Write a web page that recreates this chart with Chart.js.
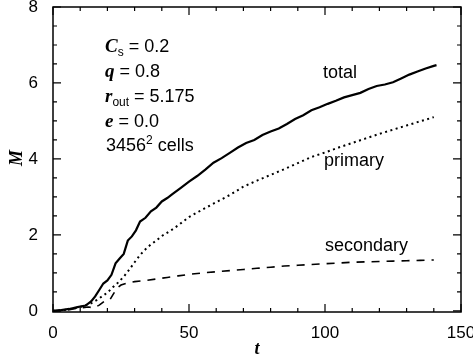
<!DOCTYPE html>
<html>
<head>
<meta charset="utf-8">
<script src="https://cdn.jsdelivr.net/npm/chart.js@4/dist/chart.umd.min.js"></script>
<style>
  html, body { margin: 0; padding: 0; background: #fff; }
  #wrap { width: 473px; height: 362px; }
</style>
</head>
<body>
<div id="wrap"><canvas id="id-canvas" width="473" height="362"></canvas></div>
<script>
// valeurs
var t_total = [0,3,6,9,12,14,15.5,17,18.5,20,21.5,23,24.5,26,27.5,29,30.5,32,34,36,38,40,42,44,47,50,53,56,59,62,65,68,71,74,77,80,83,86,89,92,95,98,101,104,107,110,113,116,119,122,125,128,131,134,137,140,141];
var m_total = [0,0.02,0.05,0.1,0.14,0.25,0.38,0.55,0.72,0.8,0.95,1.25,1.38,1.5,1.85,1.96,2.12,2.35,2.45,2.62,2.72,2.88,2.97,3.08,3.24,3.4,3.55,3.72,3.9,4.02,4.16,4.3,4.42,4.5,4.63,4.72,4.8,4.92,5.05,5.15,5.28,5.36,5.45,5.53,5.62,5.68,5.74,5.84,5.92,5.96,6.02,6.12,6.22,6.3,6.38,6.45,6.47];

var t_primary = [0,5,10,12,14,16,18,20,22,24,26,28,30,32,34,36,38,40,43,46,50,55,60,65,70,75,80,85,90,95,100,105,110,115,120,125,130,135,140];
var m_primary = [0,0.03,0.1,0.15,0.2,0.28,0.38,0.48,0.62,0.75,0.9,1.08,1.28,1.47,1.62,1.75,1.85,1.97,2.1,2.25,2.47,2.67,2.86,3.05,3.27,3.43,3.58,3.73,3.89,4.05,4.17,4.3,4.42,4.54,4.66,4.77,4.88,4.99,5.1];

var t_secondary = [0,5,10,13,15,17,19,21,22,23.5,25,27,30,34,38,42,46,50,55,60,65,70,75,80,85,90,95,100,105,110,115,120,125,130,135,140];
var m_secondary = [0,0.02,0.08,0.1,0.08,0.15,0.26,0.3,0.42,0.6,0.68,0.73,0.77,0.8,0.84,0.88,0.92,0.96,1.0,1.03,1.06,1.09,1.12,1.15,1.18,1.2,1.22,1.24,1.26,1.28,1.29,1.3,1.31,1.32,1.33,1.34];

var x_ticks = [0,50,100,150];
var y_ticks = [0,2,4,6,8];
var x_minor = 10;
var y_minor = 0.5;

function pts(xs, ys) {
  return xs.map(function(x, i) { return {x: x, y: ys[i]}; });
}

var SANS = "'Liberation Sans', Arial, sans-serif";
var SERIF = "'Liberation Serif', 'Times New Roman', serif";

// cadre, graduations vers l'interieur, titres et annotations
var decor = {
  id: 'decor',
  afterDraw: function(chart) {
    var ctx = chart.ctx, a = chart.chartArea;
    var xs = chart.scales.x, ys = chart.scales.y;
    ctx.save();
    ctx.strokeStyle = '#000';
    ctx.lineWidth = 1.5;
    ctx.strokeRect(a.left, a.top, a.right - a.left, a.bottom - a.top);
    ctx.lineWidth = 1.2;
    ctx.beginPath();
    for (var v = 0; v <= 150 + 1e-9; v += x_minor) {
      var px = xs.getPixelForValue(v);
      var len = (v % 50 === 0) ? 8 : 4;
      ctx.moveTo(px, a.bottom); ctx.lineTo(px, a.bottom - len);
      ctx.moveTo(px, a.top); ctx.lineTo(px, a.top + len);
    }
    for (var w = 0; w <= 8 + 1e-9; w += y_minor) {
      var py = ys.getPixelForValue(w);
      var l2 = (w % 2 === 0) ? 8 : 4;
      ctx.moveTo(a.left, py); ctx.lineTo(a.left + l2, py);
      ctx.moveTo(a.right, py); ctx.lineTo(a.right - l2, py);
    }
    ctx.stroke();

    ctx.fillStyle = '#000';
    ctx.textBaseline = 'alphabetic';
    // titres des axes
    ctx.font = 'italic bold 18px ' + SERIF;
    ctx.textAlign = 'center';
    ctx.fillText('t', 257, 354);
    ctx.save();
    ctx.translate(22, 158);
    ctx.rotate(-Math.PI / 2);
    ctx.fillText('M', 0, 0);
    ctx.restore();

    // annotations
    ctx.textAlign = 'left';
    function seq(x, y, parts) {
      parts.forEach(function(p) {
        ctx.font = p[1];
        ctx.fillText(p[0], x, y + (p[2] || 0));
        x += ctx.measureText(p[0]).width;
      });
    }
    var it = 'italic bold 19px ' + SERIF, rg = '18px ' + SANS, sm = '12px ' + SANS;
    seq(105, 52, [['C', it], ['s', sm, 4], [' = 0.2', rg]]);
    seq(105, 77, [['q', it], [' = 0.8', rg]]);
    seq(105, 102, [['r', it], ['out', sm, 4], [' = 5.175', rg]]);
    seq(105, 127, [['e', it], [' = 0.0', rg]]);
    seq(106, 151, [['3456', rg], ['2', sm, -7], [' cells', rg]]);

    ctx.font = rg;
    ctx.fillText('total', 323, 78);
    ctx.fillText('primary', 324, 166);
    ctx.fillText('secondary', 325, 251);
    ctx.restore();
  }
};

(function() {
  var options = {
    type: 'scatter',
    data: {
      datasets: [{
        data: pts(t_total, m_total),
        label: 'total',
        borderColor: '#000',
        borderWidth: 2.2,
        showLine: true,
        pointRadius: 0,
        tension: 0
      }, {
        data: pts(t_primary, m_primary),
        label: 'primary',
        borderColor: '#000',
        borderWidth: 2,
        borderDash: [2, 3.5],
        showLine: true,
        pointRadius: 0,
        tension: 0
      }, {
        data: pts(t_secondary, m_secondary),
        label: 'secondary',
        borderColor: '#000',
        borderWidth: 1.6,
        borderDash: [8, 7],
        showLine: true,
        pointRadius: 0,
        tension: 0
      }]
    },
    options: {
      responsive: false,
      animation: false,
      layout: { padding: { top: 7, right: 12, left: 0, bottom: 0 } },
      plugins: { legend: { display: false }, tooltip: { enabled: false } },
      scales: {
        x: {
          type: 'linear', min: 0, max: 150,
          grid: { display: false }, border: { display: false },
          afterBuildTicks: function(s) { s.ticks = x_ticks.map(function(v) { return {value: v}; }); },
          afterFit: function(s) { s.height = 50; s.paddingLeft = 0; s.paddingRight = 0; },
          ticks: { color: '#000', font: { family: SANS, size: 17 }, padding: 3, maxRotation: 0, autoSkip: false }
        },
        y: {
          type: 'linear', min: -0.03, max: 8,
          grid: { display: false }, border: { display: false },
          afterBuildTicks: function(s) { s.ticks = y_ticks.map(function(v) { return {value: v}; }); },
          afterFit: function(s) { s.width = 53; s.paddingTop = 0; s.paddingBottom = 0; },
          ticks: { color: '#000', font: { family: SANS, size: 17 }, padding: 7 }
        }
      }
    },
    plugins: [decor]
  };

  var ctx = document.getElementById('id-canvas').getContext('2d');
  window.chart = new Chart(ctx, options);
})();
</script>
</body>
</html>
